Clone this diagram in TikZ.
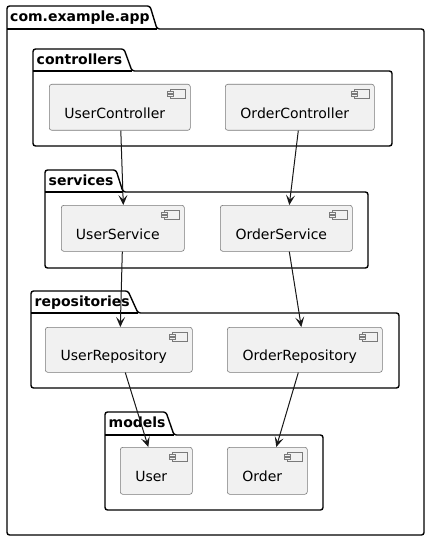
\documentclass[tikz,border=0pt]{standalone}
\usepackage{fontspec}
\setmainfont{DejaVu Sans}
\usetikzlibrary{arrows.meta,calc}
\definecolor{compfill}{HTML}{F1F1F1}
\definecolor{dark}{HTML}{181818}
\definecolor{compline}{HTML}{7A7A7A}
\tikzset{
  comp/.style={draw=compline, line width=0.6pt, fill=compfill, rounded corners=2.5pt,
    anchor=north west, inner sep=0pt, font=\fontsize{14pt}{16pt}\selectfont,
    text height=22pt, text depth=0pt, execute at end node={\kern10pt}},
  pkgline/.style={draw=black, line width=1.4pt, fill=white, rounded corners=2.5pt},
  pkgtitle/.style={anchor=base west, inner sep=0pt, font=\fontsize{14pt}{16pt}\selectfont\bfseries},
  dep/.style={draw=dark, line width=1pt, -{Stealth[length=10pt,width=9pt,inset=4.5pt]}},
  icon/.style={draw=compline, line width=0.6pt, fill=compfill}
}
\newcommand{\pkgshape}[7]{% x, tabtop, tabbottom, tabright-top, tabright-bottom, right, bottom
  \path[pkgline] (#1,#7) -- (#1,#2) -- (#4,#2) -- (#5,#3) -- (#6,#3) -- (#6,#7) -- cycle;
  \draw[line width=1.4pt] (#1,#3) -- (#5,#3);
}
\newcommand{\compicon}[1]{%
  \draw[icon] ($(#1.north east)+(-20,5)$) rectangle ($(#1.north east)+(-5,14)$);
  \draw[icon] ($(#1.north east)+(-23,7)$) rectangle ($(#1.north east)+(-17,9)$);
  \draw[icon] ($(#1.north east)+(-23,10.5)$) rectangle ($(#1.north east)+(-17,12.5)$);
}
\begin{document}
\begin{tikzpicture}[x=1pt,y=-1pt]
\useasboundingbox (0,0) rectangle (437,548);
% outer package
\pkgshape{7}{6}{29}{150}{157}{424}{535}
\node[pkgtitle] (tapp) at (10,22) {com.example.app};
% controllers
\pkgshape{33}{49}{71}{124}{132}{392}{146}
\node[pkgtitle] (tctl) at (36.5,64.5) {controllers};
% services
\pkgshape{45}{170}{192}{116}{123}{368}{268}
\node[pkgtitle] (tsvc) at (48.5,185.5) {services};
% repositories
\pkgshape{31}{291}{313}{128}{138}{399}{388}
\node[pkgtitle] (trep) at (34.5,306.5) {repositories};
% models
\pkgshape{105}{412}{435}{166}{174}{323}{510}
\node[pkgtitle] (tmod) at (108.5,427.5) {models};
% components
\node[comp, minimum width=141, minimum height=46] (uc) at (49,84) {UserController};
\node[comp, minimum width=149, minimum height=46] (oc) at (225,84) {OrderController};
\node[comp, minimum width=123, minimum height=46] (us) at (61,205) {UserService};
\node[comp, minimum width=132, minimum height=46] (os) at (220,205) {OrderService};
\node[comp, minimum width=147, minimum height=45] (ur) at (45,327) {UserRepository};
\node[comp, minimum width=155, minimum height=45] (orp) at (227,327) {OrderRepository};
\node[comp, minimum width=72, minimum height=47] (um) at (120,447) {User};
\node[comp, minimum width=80, minimum height=47] (om) at (227,447) {Order};
\foreach \n in {uc,oc,us,os,ur,orp,um,om} {\compicon{\n}}
% dependencies
\draw[dep] ([xshift=1pt]uc.south) -- ([xshift=0.5pt]us.north);
\draw[dep] ([xshift=-1.5pt]oc.south) -- ([xshift=3pt]os.north);
\draw[dep] ([xshift=-0.5pt]us.south) -- ([xshift=1.5pt]ur.north);
\draw[dep] ([xshift=3pt]os.south) -- ([xshift=-3.5pt]orp.north);
\draw[dep] ([xshift=6.5pt]ur.south) -- ([xshift=-8pt]um.north);
\draw[dep] ([xshift=-6.5pt]orp.south) -- ([xshift=9pt]om.north);
\end{tikzpicture}
\end{document}
